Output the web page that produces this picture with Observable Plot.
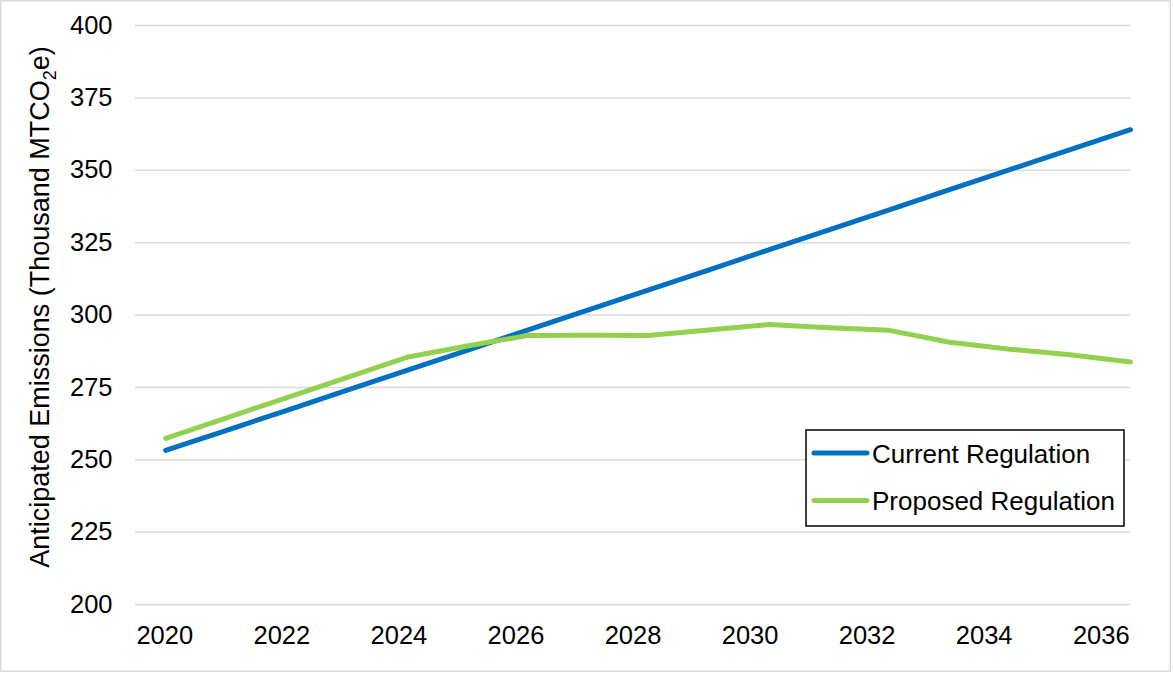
<!DOCTYPE html>
<html>
<head>
<meta charset="utf-8">
<script src="https://cdn.jsdelivr.net/npm/d3@7"></script>
<script src="https://cdn.jsdelivr.net/npm/@observablehq/plot@0.6"></script>
<style>
  html, body { margin: 0; padding: 0; background: #fff; }
  #chart { width: 1173px; height: 673px; }
</style>
</head>
<body>
<div id="chart"></div>
<script>
// Annual anticipated emissions, thousand MTCO2e
const years = [2020, 2021, 2022, 2023, 2024, 2025, 2026, 2027, 2028,
               2029, 2030, 2031, 2032, 2033, 2034, 2035, 2036];
const currentRegulation = [253.2, 260.1, 267.0, 274.0, 280.9, 287.8, 294.8, 301.7, 308.6,
                           315.5, 322.5, 329.4, 336.3, 343.3, 350.2, 357.1, 364.0];
const proposedRegulation = [257.4, 264.4, 271.4, 278.4, 285.4, 289.3, 292.9, 293.0, 292.9,
                            294.8, 296.7, 295.6, 294.7, 290.6, 288.2, 286.3, 283.8];

const seriesNames = ["Current Regulation", "Proposed Regulation"];
const seriesColors = ["#0070C0", "#92D050"];

const yTicks = [200, 225, 250, 275, 300, 325, 350, 375, 400];
const xTickYears = [2020, 2022, 2024, 2026, 2028, 2030, 2032, 2034, 2036];

const data = years.flatMap((year, i) => [
  {year, value: currentRegulation[i], series: seriesNames[0]},
  {year, value: proposedRegulation[i], series: seriesNames[1]}
]);

// Year labels sit centred in equal category slots spanning the frame
const xMin = 2019.5, xMax = 2036;
const slot = (xMax - xMin) / years.length;
const labelPos = (yr) => xMin + (years.indexOf(yr) + 0.5) * slot;

const W = 1173, H = 673;
const chart = Plot.plot({
  width: W,
  height: H,
  marginLeft: 135,
  marginRight: 43,
  marginTop: 25,
  marginBottom: 69,
  style: {fontFamily: "'Liberation Sans', Arial, sans-serif", background: "#fff", color: "#000"},
  x: {domain: [xMin, xMax], axis: null},
  y: {domain: [200, 400], axis: null},
  color: {domain: seriesNames, range: seriesColors},
  marks: [
    Plot.ruleY(yTicks, {stroke: "#d9d9d9", strokeWidth: 1.5}),
    Plot.axisY(yTicks, {tickSize: 0, tickPadding: 23, fontSize: 25.5, label: null, tickFormat: d => String(d)}),
    Plot.text(xTickYears, {x: labelPos, y: () => 200, dy: 31, text: d => String(d), fontSize: 25.5, fill: "#000"}),
    Plot.line(data, {x: "year", y: "value", z: "series", stroke: "series",
                     strokeWidth: 5, strokeLinecap: "round", strokeLinejoin: "round"})
  ]
});

const svg = d3.select(chart);

// Thin outer border around the chart area
svg.append("rect")
  .attr("x", 0.75).attr("y", 0.75).attr("width", 1169.5).attr("height", 670.5)
  .attr("fill", "none").attr("stroke", "#d9d9d9").attr("stroke-width", 1.5);

// Rotated y-axis title with subscript 2
const title = svg.append("text")
  .attr("transform", "translate(40,307) rotate(-90)")
  .attr("text-anchor", "middle")
  .attr("dominant-baseline", "central")
  .attr("font-size", 27)
  .attr("fill", "#000");
title.append("tspan").text("Anticipated Emissions (Thousand MTCO");
title.append("tspan").attr("font-size", 18).attr("baseline-shift", "sub").text("2");
title.append("tspan").text("e)");

// Boxed legend inside the plot area
const leg = svg.append("g").attr("transform", "translate(806,430)");
leg.append("rect").attr("width", 318).attr("height", 96)
  .attr("fill", "#fff").attr("stroke", "#000").attr("stroke-width", 1.5);
seriesNames.forEach((name, i) => {
  const cy = 23 + i * 47.5;
  leg.append("line").attr("x1", 8).attr("x2", 61).attr("y1", cy).attr("y2", cy)
    .attr("stroke", seriesColors[i]).attr("stroke-width", 5).attr("stroke-linecap", "round");
  leg.append("text").attr("x", 66).attr("y", cy + 9.5)
    .attr("text-anchor", "start")
    .attr("font-size", 26).attr("fill", "#000").text(name);
});

document.getElementById("chart").appendChild(chart);
</script>
</body>
</html>
